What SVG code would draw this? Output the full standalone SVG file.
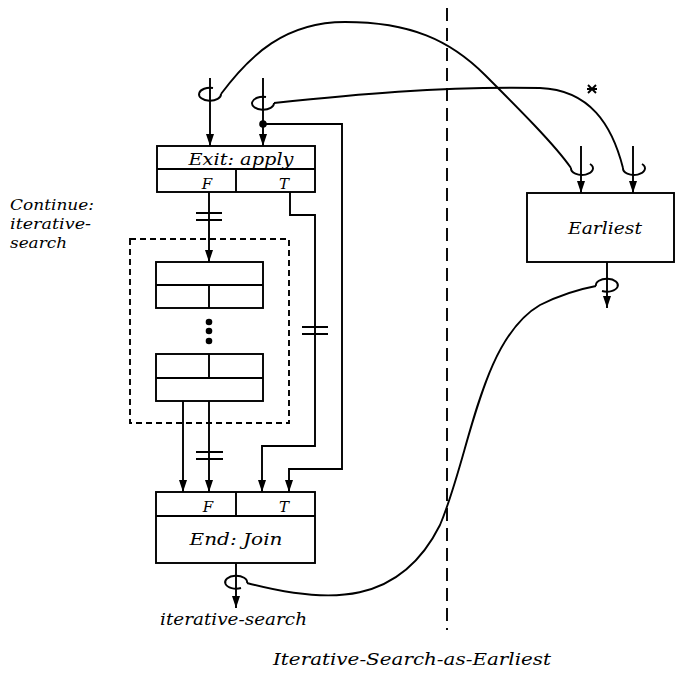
<svg xmlns="http://www.w3.org/2000/svg" width="678" height="680" viewBox="0 0 678 680">
<style>
.ln{fill:none;stroke:#000;stroke-width:1.9}
.bx{fill:#fff;stroke:#000;stroke-width:1.9}
.t{font-family:"DejaVu Serif","Liberation Serif",serif;font-style:italic;font-size:17px;fill:#000}
.s{font-size:15px}
.c{text-anchor:middle}
.dash{fill:none;stroke:#000;stroke-width:1.9;stroke-dasharray:6 4}
</style>
<defs>
<marker id="ar" markerUnits="userSpaceOnUse" markerWidth="8" markerHeight="12" refX="4" refY="12" orient="0" viewBox="0 0 8 12">
<path d="M0,0 L8,0 L4,12 z" fill="#000"/>
</marker>
</defs>
<rect width="678" height="680" fill="#fff"/>

<!-- separator -->
<line x1="447" y1="8" x2="447" y2="630" stroke="#000" stroke-width="1.9" stroke-dasharray="13 7"/>

<g id="continue-box">
<rect class="dash" x="130" y="239" width="159" height="184"/>
<text class="t s" x="10" y="210" textLength="84" lengthAdjust="spacingAndGlyphs">Continue:</text>
<text class="t s" x="10" y="229" textLength="81" lengthAdjust="spacingAndGlyphs">iterative-</text>
<text class="t s" x="10" y="248" textLength="57" lengthAdjust="spacingAndGlyphs">search</text>
</g>

<g id="exit-node">
<rect class="bx" x="157" y="146" width="158" height="46"/>
<line class="ln" x1="157" y1="169" x2="315" y2="169"/>
<line class="ln" x1="236" y1="169" x2="236" y2="192"/>
<text class="t c" x="241" y="165" textLength="105" lengthAdjust="spacingAndGlyphs">Exit: apply</text>
<text class="t s c" x="207" y="189">F</text>
<text class="t s c" x="284" y="189">T</text>
</g>

<g id="inner-node-1">
<rect class="bx" x="156" y="262" width="107" height="46"/>
<line class="ln" x1="156" y1="285" x2="263" y2="285"/>
<line class="ln" x1="209" y1="285" x2="209" y2="308"/>
</g>

<g id="ellipsis">
<circle cx="209" cy="322" r="3.3"/>
<circle cx="209" cy="331" r="3.3"/>
<circle cx="209" cy="341" r="3.3"/>
</g>

<g id="inner-node-2">
<rect class="bx" x="156" y="354" width="107" height="47"/>
<line class="ln" x1="156" y1="378" x2="263" y2="378"/>
<line class="ln" x1="209" y1="354" x2="209" y2="378"/>
</g>

<g id="end-node">
<rect class="bx" x="156" y="492" width="159" height="71"/>
<line class="ln" x1="156" y1="516" x2="315" y2="516"/>
<line class="ln" x1="236" y1="492" x2="236" y2="516"/>
<text class="t s c" x="208" y="512">F</text>
<text class="t s c" x="284" y="512">T</text>
<text class="t c" x="236" y="545" textLength="93" lengthAdjust="spacingAndGlyphs">End: Join</text>
</g>

<g id="earliest-node">
<rect class="bx" x="527" y="193" width="147" height="69"/>
<text class="t c" x="605" y="234" textLength="74" lengthAdjust="spacingAndGlyphs">Earliest</text>
</g>

<g id="connectors">
<path class="ln" d="M210,78 V146" marker-end="url(#ar)"/>
<path class="ln" d="M263,78 V146" marker-end="url(#ar)"/>
<circle cx="263" cy="124" r="3.8"/>
<path class="ln" d="M263,124 H342 V469 H289 V492" marker-end="url(#ar)"/>
<path class="ln" d="M290,192 V215 H315 V446 H262 V492" marker-end="url(#ar)"/>
<path class="ln" d="M209,192 V262" marker-end="url(#ar)"/>
<path class="ln" d="M183,401 V492" marker-end="url(#ar)"/>
<path class="ln" d="M209,401 V492" marker-end="url(#ar)"/>
<path class="ln" d="M236,563 V608" marker-end="url(#ar)"/>
<path class="ln" d="M581,146 V193" marker-end="url(#ar)"/>
<path class="ln" d="M633,146 V193" marker-end="url(#ar)"/>
<path class="ln" d="M607,262 V308" marker-end="url(#ar)"/>

<!-- double bars -->
<path class="ln" d="M196,213 H222 M196,220 H222"/>
<path class="ln" d="M302,327 H328 M302,334 H328"/>
<path class="ln" d="M196,452 H223 M196,459 H223"/>

<!-- loops -->
<path class="ln" d="M213,88 A11,6.5 0 1 0 221,94"/>
<path class="ln" d="M266,97 A11,6.5 0 1 0 274,103"/>
<path class="ln" d="M571,168 A11,6.5 0 1 0 590,164"/>
<path class="ln" d="M623,168 A11,6.5 0 1 0 642,164"/>
<path class="ln" d="M596,286 A11,6.5 0 1 1 602,291"/>
<path class="ln" d="M247,583 A11,6.5 0 1 0 241,588"/>

<!-- curves -->
<path class="ln" d="M221,94 C250,55 285,22 345,22 C410,22 450,40 485,75 C520,110 555,145 571,168"/>
<path class="ln" d="M274,103 C350,95 440,86 540,88 C590,90 612,125 623,168"/>
<path class="ln" d="M247,583 C330,605 400,605 440,525 C470,455 480,340 540,305 C560,295 580,289 596,286"/>

<!-- mark -->
<path class="ln" d="M588,85 L596,93 M596,85 L588,93 M587,89 H597" stroke-width="1.6"/>
</g>

<text class="t" x="160" y="625" textLength="147" lengthAdjust="spacingAndGlyphs">iterative-search</text>
<text class="t" x="273" y="665" textLength="278" lengthAdjust="spacingAndGlyphs">Iterative-Search-as-Earliest</text>
</svg>
